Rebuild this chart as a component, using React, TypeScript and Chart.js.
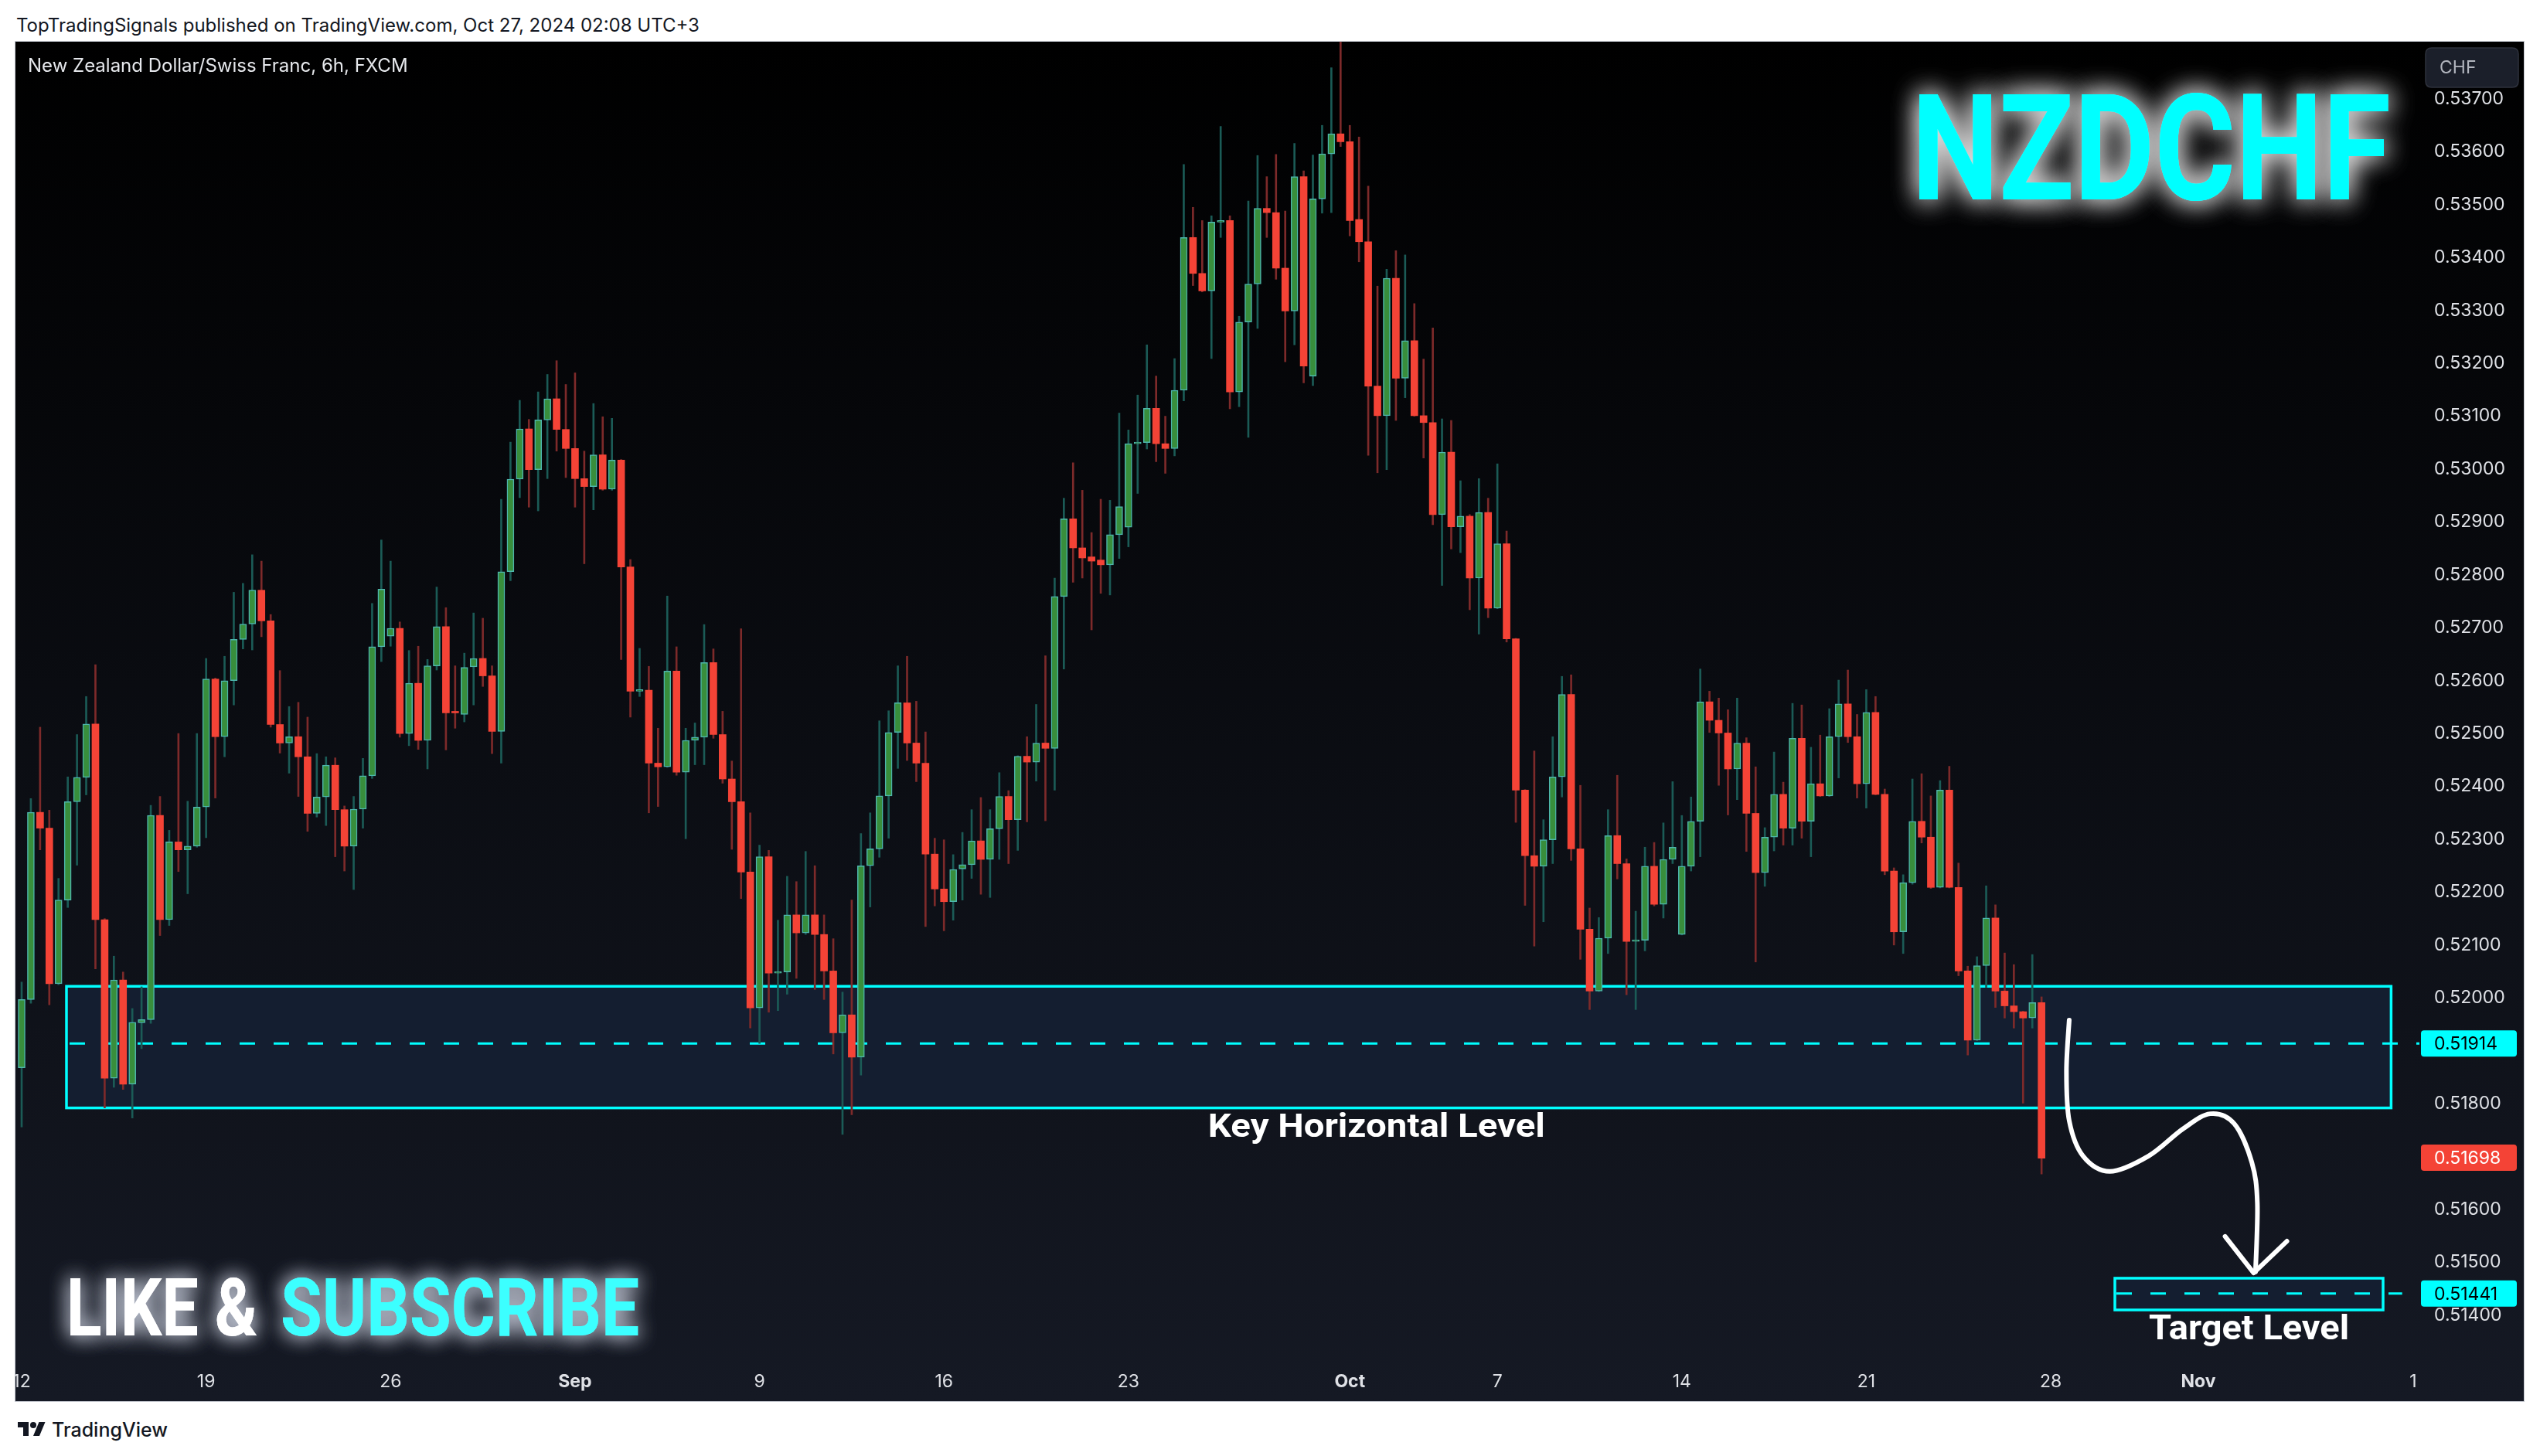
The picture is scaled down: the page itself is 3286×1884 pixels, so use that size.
import React, { useEffect, useRef } from 'react';
import { Chart, registerables } from 'chart.js';

Chart.register(...registerables);

// ---------- DATA (6h candles, NZD/CHF, Aug 12 – Oct 25, 2024) ----------
const open = [
  0.51868,0.51997,0.52351,0.52321,0.52027,0.52185,0.52371,0.52417,0.52518,0.52148,
  0.51848,0.52034,0.51837,0.51953,0.51959,0.52345,0.52148,0.52295,0.52280,0.52287,
  0.52361,0.52603,0.52494,0.52600,0.52678,0.52707,0.52771,0.52713,0.52517,0.52482,
  0.52494,0.52456,0.52349,0.52380,0.52440,0.52356,0.52287,0.52357,0.52420,0.52664,
  0.52684,0.52699,0.52500,0.52595,0.52487,0.52628,0.52702,0.52541,0.52536,0.52626,
  0.52642,0.52609,0.52504,0.52806,0.52981,0.53076,0.52999,0.53093,0.53133,0.53075,
  0.53039,0.52982,0.52967,0.53027,0.52962,0.53017,0.52815,0.52580,0.52582,0.52444,
  0.52437,0.52618,0.52427,0.52487,0.52493,0.52634,0.52498,0.52414,0.52371,0.52238,
  0.51981,0.52267,0.52047,0.52049,0.52157,0.52123,0.52157,0.52120,0.52051,0.51934,
  0.51968,0.51888,0.52250,0.52282,0.52382,0.52502,0.52558,0.52482,0.52444,0.52272,
  0.52206,0.52182,0.52244,0.52252,0.52297,0.52262,0.52320,0.52381,0.52337,0.52457,
  0.52446,0.52482,0.52472,0.52759,0.52906,0.52851,0.52834,0.52828,0.52819,0.52876,
  0.52890,0.53048,0.53050,0.53115,0.53048,0.53039,0.53149,0.53438,0.53370,0.53337,
  0.53467,0.53470,0.53146,0.53278,0.53350,0.53493,0.53485,0.53380,0.53299,0.53553,
  0.53176,0.53511,0.53596,0.53634,0.53619,0.53472,0.53430,0.53157,0.53101,0.53361,
  0.53172,0.53243,0.53101,0.53088,0.52914,0.53032,0.52891,0.52911,0.52794,0.52918,
  0.52737,0.52859,0.52679,0.52393,0.52269,0.52249,0.52299,0.52418,0.52574,0.52282,
  0.52130,0.52013,0.52113,0.52307,0.52254,0.52107,0.52109,0.52249,0.52177,0.52262,
  0.52120,0.52249,0.52334,0.52560,0.52525,0.52501,0.52433,0.52482,0.52349,0.52237,
  0.52304,0.52385,0.52321,0.52491,0.52334,0.52405,0.52382,0.52494,0.52556,0.52494,
  0.52405,0.52540,0.52385,0.52240,0.52125,0.52218,0.52334,0.52304,0.52209,0.52393,
  0.52209,0.52051,0.51920,0.52061,0.52151,0.52013,0.51985,0.51974,0.51962,0.51991,
];
const high = [
  0.52030,0.52377,0.52512,0.52355,0.52226,0.52418,0.52498,0.52570,0.52630,0.52150,
  0.52079,0.52049,0.51980,0.52021,0.52364,0.52381,0.52317,0.52500,0.52372,0.52500,
  0.52642,0.52605,0.52646,0.52767,0.52784,0.52838,0.52826,0.52725,0.52619,0.52551,
  0.52559,0.52531,0.52462,0.52456,0.52454,0.52363,0.52381,0.52453,0.52746,0.52866,
  0.52826,0.52711,0.52657,0.52665,0.52640,0.52777,0.52738,0.52628,0.52652,0.52728,
  0.52718,0.52628,0.52943,0.53051,0.53130,0.53094,0.53146,0.53179,0.53205,0.53160,
  0.53182,0.53034,0.53124,0.53099,0.53096,0.53018,0.52829,0.52661,0.52627,0.52510,
  0.52760,0.52664,0.52510,0.52520,0.52706,0.52660,0.52542,0.52448,0.52698,0.52350,
  0.52289,0.52279,0.52147,0.52230,0.52220,0.52277,0.52250,0.52157,0.52112,0.52011,
  0.52185,0.52311,0.52350,0.52524,0.52543,0.52628,0.52646,0.52561,0.52503,0.52302,
  0.52299,0.52271,0.52313,0.52356,0.52379,0.52356,0.52426,0.52392,0.52458,0.52494,
  0.52555,0.52647,0.52794,0.52945,0.53012,0.52960,0.52880,0.52943,0.52941,0.53106,
  0.53074,0.53140,0.53235,0.53176,0.53100,0.53209,0.53576,0.53495,0.53470,0.53479,
  0.53648,0.53479,0.53289,0.53507,0.53593,0.53553,0.53595,0.53488,0.53616,0.53564,
  0.53594,0.53650,0.53759,0.53808,0.53650,0.53628,0.53535,0.53346,0.53378,0.53413,
  0.53405,0.53313,0.53208,0.53267,0.53095,0.53092,0.52978,0.52914,0.52982,0.52945,
  0.53010,0.52883,0.52680,0.52394,0.52467,0.52337,0.52494,0.52608,0.52611,0.52402,
  0.52170,0.52152,0.52356,0.52421,0.52263,0.52164,0.52285,0.52294,0.52331,0.52409,
  0.52345,0.52380,0.52622,0.52580,0.52567,0.52545,0.52567,0.52492,0.52437,0.52322,
  0.52465,0.52408,0.52557,0.52554,0.52474,0.52497,0.52547,0.52601,0.52620,0.52536,
  0.52583,0.52570,0.52395,0.52246,0.52233,0.52414,0.52424,0.52382,0.52411,0.52438,
  0.52255,0.52060,0.52078,0.52212,0.52176,0.52085,0.52063,0.51975,0.52082,0.52002,
];
const low = [
  0.51756,0.51990,0.52280,0.51987,0.52025,0.52171,0.52251,0.52384,0.52055,0.51792,
  0.51831,0.51827,0.51773,0.51904,0.51952,0.52118,0.52137,0.52239,0.52197,0.52285,
  0.52303,0.52378,0.52456,0.52554,0.52660,0.52658,0.52683,0.52512,0.52463,0.52425,
  0.52381,0.52315,0.52342,0.52326,0.52267,0.52240,0.52205,0.52321,0.52415,0.52636,
  0.52665,0.52493,0.52477,0.52470,0.52433,0.52620,0.52469,0.52510,0.52522,0.52554,
  0.52589,0.52462,0.52444,0.52789,0.52946,0.52928,0.52921,0.52982,0.53034,0.52984,
  0.52928,0.52821,0.52923,0.52960,0.52960,0.52640,0.52531,0.52570,0.52350,0.52362,
  0.52436,0.52421,0.52301,0.52441,0.52441,0.52491,0.52406,0.52281,0.52188,0.51943,
  0.51914,0.51973,0.51976,0.52007,0.52037,0.52120,0.52016,0.51997,0.51894,0.51742,
  0.51779,0.51854,0.52172,0.52266,0.52302,0.52434,0.52449,0.52409,0.52135,0.52174,
  0.52127,0.52147,0.52185,0.52226,0.52196,0.52190,0.52262,0.52254,0.52279,0.52333,
  0.52410,0.52335,0.52393,0.52622,0.52786,0.52794,0.52696,0.52765,0.52762,0.52831,
  0.52853,0.52954,0.53038,0.53014,0.52992,0.53025,0.53129,0.53347,0.53335,0.53209,
  0.53438,0.53114,0.53118,0.53060,0.53266,0.53438,0.53359,0.53203,0.53235,0.53163,
  0.53158,0.53484,0.53485,0.53610,0.53441,0.53392,0.53026,0.52993,0.52999,0.53092,
  0.53135,0.53100,0.53021,0.52895,0.52780,0.52849,0.52842,0.52734,0.52688,0.52719,
  0.52736,0.52673,0.52332,0.52175,0.52098,0.52144,0.52254,0.52380,0.52260,0.52073,
  0.51978,0.52012,0.52084,0.52225,0.52006,0.51978,0.52089,0.52174,0.52151,0.52254,
  0.52119,0.52240,0.52267,0.52502,0.52402,0.52346,0.52375,0.52277,0.52068,0.52211,
  0.52278,0.52289,0.52289,0.52302,0.52267,0.52381,0.52381,0.52416,0.52483,0.52378,
  0.52359,0.52384,0.52233,0.52100,0.52084,0.52215,0.52293,0.52207,0.52208,0.52208,
  0.52042,0.51892,0.51919,0.52020,0.51982,0.51962,0.51943,0.51801,0.51943,0.51667,
];
const close = [
  0.51997,0.52351,0.52321,0.52027,0.52185,0.52371,0.52417,0.52518,0.52148,0.51848,
  0.52034,0.51837,0.51954,0.51959,0.52345,0.52148,0.52295,0.52280,0.52287,0.52361,
  0.52603,0.52494,0.52600,0.52678,0.52707,0.52771,0.52713,0.52517,0.52482,0.52494,
  0.52456,0.52349,0.52380,0.52440,0.52356,0.52287,0.52357,0.52420,0.52664,0.52773,
  0.52699,0.52500,0.52595,0.52487,0.52628,0.52702,0.52539,0.52539,0.52625,0.52642,
  0.52609,0.52504,0.52806,0.52981,0.53076,0.52999,0.53093,0.53133,0.53075,0.53039,
  0.52982,0.52967,0.53027,0.52962,0.53017,0.52815,0.52580,0.52582,0.52444,0.52437,
  0.52618,0.52427,0.52487,0.52493,0.52634,0.52498,0.52414,0.52371,0.52238,0.51981,
  0.52267,0.52047,0.52049,0.52157,0.52123,0.52157,0.52120,0.52051,0.51934,0.51968,
  0.51888,0.52250,0.52282,0.52382,0.52502,0.52558,0.52482,0.52444,0.52272,0.52206,
  0.52182,0.52243,0.52252,0.52297,0.52262,0.52320,0.52381,0.52337,0.52457,0.52446,
  0.52482,0.52472,0.52759,0.52906,0.52851,0.52832,0.52826,0.52819,0.52876,0.52929,
  0.53048,0.53050,0.53115,0.53048,0.53039,0.53149,0.53438,0.53370,0.53337,0.53467,
  0.53470,0.53146,0.53278,0.53350,0.53493,0.53485,0.53380,0.53299,0.53553,0.53195,
  0.53511,0.53596,0.53634,0.53619,0.53470,0.53430,0.53157,0.53101,0.53361,0.53172,
  0.53243,0.53101,0.53088,0.52914,0.53032,0.52891,0.52911,0.52794,0.52918,0.52737,
  0.52859,0.52679,0.52393,0.52269,0.52249,0.52299,0.52418,0.52574,0.52282,0.52130,
  0.52013,0.52113,0.52307,0.52254,0.52107,0.52109,0.52249,0.52177,0.52262,0.52285,
  0.52249,0.52334,0.52560,0.52525,0.52501,0.52433,0.52482,0.52349,0.52237,0.52304,
  0.52385,0.52321,0.52491,0.52334,0.52405,0.52382,0.52494,0.52556,0.52494,0.52405,
  0.52540,0.52385,0.52240,0.52125,0.52218,0.52334,0.52304,0.52209,0.52393,0.52209,
  0.52051,0.51920,0.52061,0.52151,0.52013,0.51985,0.51974,0.51962,0.51991,0.51697,
];

const priceTicks = [
  0.514, 0.515, 0.516, 0.517, 0.518, 0.519, 0.52, 0.521, 0.522, 0.523, 0.524, 0.525,
  0.526, 0.527, 0.528, 0.529, 0.53, 0.531, 0.532, 0.533, 0.534, 0.535, 0.536, 0.537,
];
const timeTickIdx = [0, 20, 40, 60, 80, 100, 120, 144, 160, 180, 200, 220, 236, 259.3];
const timeTickLabels = ['12', '19', '26', 'Sep', '9', '16', '23', 'Oct', '7', '14', '21', '28', 'Nov', '1'];
const monthLabels = ['Sep', 'Oct', 'Nov'];

const keyZone = [4.86, 256.9, 0.52022, 0.51792]; // from idx, to idx, top, bottom
const keyLevel = 0.51914;
const targetZone = [226.95, 256.03, 0.5147, 0.5141];
const targetLevel = 0.51441;
const targetLineEnd = 258.1;
const lastPrice = 0.51698;
const arrowX = [222.0, 221.7, 222.0, 223.5, 226.4, 230.6, 234.3, 237.3, 239.9, 241.8, 242.4, 242.2];
const arrowY = [0.51958, 0.51862, 0.51768, 0.51701, 0.51672, 0.51701, 0.51752, 0.51781, 0.51762, 0.51689, 0.51612, 0.51482];
const arrowHeadX = [238.9, 242.0, 245.6];
const arrowHeadY = [0.51549, 0.5148, 0.5154];
const keyLabelPos = [146.9, 0.51737];
const targetLabelPos = [241.5, 0.51354];

// ---------- LAYOUT ----------
const CW = 3245;
const CH = 1759;
const X_MIN = -0.6705;
const X_MAX = 259.97;
const Y_MIN = 0.513121;
const Y_MAX = 0.5380814;

const CYAN = '#00FFFF';
const UP_FILL = '#388E3C';
const UP_BORDER = '#4DB6AC';
const DOWN_FILL = '#F44336';
const UP_WICK = '#1B5B56';
const DOWN_WICK = '#7D2A2A';
const AXIS_TEXT = '#DFE1E6';

function fitText(ctx: CanvasRenderingContext2D, text: string, x: number, y: number, w: number, font: string, color: string, center: boolean) {
  ctx.save();
  ctx.font = font;
  const m = ctx.measureText(text).width;
  const s = w / m;
  ctx.translate(center ? x - w / 2 : x, y);
  ctx.scale(s, 1);
  ctx.textAlign = 'left';
  ctx.textBaseline = 'alphabetic';
  ctx.fillStyle = color;
  ctx.fillText(text, 0, 0);
  ctx.restore();
}

function roundRect(ctx: CanvasRenderingContext2D, x: number, y: number, w: number, h: number, r: number) {
  ctx.beginPath();
  ctx.moveTo(x + r, y);
  ctx.lineTo(x + w - r, y);
  ctx.quadraticCurveTo(x + w, y, x + w, y + r);
  ctx.lineTo(x + w, y + h - r);
  ctx.quadraticCurveTo(x + w, y + h, x + w - r, y + h);
  ctx.lineTo(x + r, y + h);
  ctx.quadraticCurveTo(x, y + h, x, y + h - r);
  ctx.lineTo(x, y + r);
  ctx.quadraticCurveTo(x, y, x + r, y);
  ctx.closePath();
}

const decor = {
  id: 'decor',
  beforeDraw(chart: any) {
    const ctx = chart.ctx;
    const g = ctx.createLinearGradient(0, 0, 0, chart.height);
    g.addColorStop(0, '#000000');
    g.addColorStop(1, '#151924');
    ctx.save();
    ctx.fillStyle = g;
    ctx.fillRect(0, 0, chart.width, chart.height);
    ctx.restore();
  },
  beforeDatasetsDraw(chart: any) {
    const ctx = chart.ctx;
    const xs = chart.scales.x;
    const ys = chart.scales.y;
    ctx.save();
    // key zone
    const kx0 = xs.getPixelForValue(keyZone[0]);
    const kx1 = xs.getPixelForValue(keyZone[1]);
    const ky0 = ys.getPixelForValue(keyZone[2]);
    const ky1 = ys.getPixelForValue(keyZone[3]);
    ctx.fillStyle = '#141E30';
    ctx.fillRect(kx0, ky0, kx1 - kx0, ky1 - ky0);
    ctx.strokeStyle = CYAN;
    ctx.lineWidth = 3.5;
    ctx.strokeRect(kx0, ky0, kx1 - kx0, ky1 - ky0);
    // target zone
    const tx0 = xs.getPixelForValue(targetZone[0]);
    const tx1 = xs.getPixelForValue(targetZone[1]);
    const ty0 = ys.getPixelForValue(targetZone[2]);
    const ty1 = ys.getPixelForValue(targetZone[3]);
    ctx.fillStyle = '#141E30';
    ctx.fillRect(tx0, ty0, tx1 - tx0, ty1 - ty0);
    ctx.strokeRect(tx0, ty0, tx1 - tx0, ty1 - ty0);
    // dashed levels
    ctx.setLineDash([20, 24]);
    ctx.lineWidth = 3;
    const ky = ys.getPixelForValue(keyLevel);
    ctx.beginPath();
    ctx.moveTo(kx0 + 4, ky);
    ctx.lineTo(chart.chartArea.right, ky);
    ctx.stroke();
    const ty = ys.getPixelForValue(targetLevel);
    ctx.beginPath();
    ctx.moveTo(tx0 + 2, ty);
    ctx.lineTo(xs.getPixelForValue(targetLineEnd), ty);
    ctx.stroke();
    ctx.restore();
  },
  afterDatasetsDraw(chart: any) {
    const ctx = chart.ctx;
    const xs = chart.scales.x;
    const ys = chart.scales.y;
    ctx.save();
    // curved arrow
    const pts = arrowX.map((v, i) => ({ x: xs.getPixelForValue(v), y: ys.getPixelForValue(arrowY[i]) }));
    ctx.strokeStyle = '#FFFFFF';
    ctx.lineWidth = 6;
    ctx.lineCap = 'round';
    ctx.lineJoin = 'round';
    ctx.beginPath();
    ctx.moveTo(pts[0].x, pts[0].y);
    for (let i = 0; i < pts.length - 1; i++) {
      const p0 = pts[i - 1] || pts[i];
      const p1 = pts[i];
      const p2 = pts[i + 1];
      const p3 = pts[i + 2] || p2;
      ctx.bezierCurveTo(
        p1.x + (p2.x - p0.x) / 6, p1.y + (p2.y - p0.y) / 6,
        p2.x - (p3.x - p1.x) / 6, p2.y - (p3.y - p1.y) / 6,
        p2.x, p2.y,
      );
    }
    ctx.stroke();
    ctx.beginPath();
    arrowHeadX.forEach((v, i) => {
      const px = xs.getPixelForValue(v);
      const py = ys.getPixelForValue(arrowHeadY[i]);
      if (i === 0) ctx.moveTo(px, py); else ctx.lineTo(px, py);
    });
    ctx.stroke();

    // zone labels
    fitText(ctx, 'Key Horizontal Level', xs.getPixelForValue(keyLabelPos[0]), ys.getPixelForValue(keyLabelPos[1]), 436, 'bold 42px Roboto', '#FFFFFF', true);
    fitText(ctx, 'Target Level', xs.getPixelForValue(targetLabelPos[0]), ys.getPixelForValue(targetLabelPos[1]), 259, 'bold 44px Roboto', '#FFFFFF', true);

    // watermark texts with glow
    ctx.save();
    ctx.shadowColor = 'rgba(255,255,255,0.8)';
    ctx.shadowBlur = 34;
    fitText(ctx, 'NZDCHF', 2453, 204, 620, 'bold 192px Roboto', CYAN, false);
    fitText(ctx, 'NZDCHF', 2453, 204, 620, 'bold 192px Roboto', CYAN, false);
    ctx.shadowColor = 'rgba(200,205,220,0.9)';
    ctx.shadowBlur = 26;
    fitText(ctx, 'LIKE &', 66, 1674, 247, 'bold 103px Roboto', '#FFFFFF', false);
    fitText(ctx, 'SUBSCRIBE', 343, 1674, 464, 'bold 103px Roboto', '#3CFFFF', false);
    fitText(ctx, 'LIKE &', 66, 1674, 247, 'bold 103px Roboto', '#FFFFFF', false);
    fitText(ctx, 'SUBSCRIBE', 343, 1674, 464, 'bold 103px Roboto', '#3CFFFF', false);
    ctx.restore();
    ctx.restore();
  },
  afterDraw(chart: any) {
    const ctx = chart.ctx;
    const ys = chart.scales.y;
    const left = chart.chartArea.right + 2;
    ctx.save();
    // title
    ctx.font = '24px Inter';
    ctx.fillStyle = '#E6E8EC';
    ctx.textBaseline = 'middle';
    ctx.textAlign = 'left';
    ctx.fillText('New Zealand Dollar/Swiss Franc, 6h, FXCM', 16, 32);
    // currency box
    roundRect(ctx, 3118, 8, 120, 51, 8);
    ctx.fillStyle = '#1B1F2A';
    ctx.fill();
    ctx.strokeStyle = '#2E323D';
    ctx.lineWidth = 1.5;
    ctx.stroke();
    ctx.fillStyle = '#B2B5BE';
    ctx.font = '23px Inter';
    ctx.fillText('CHF', 3136, 34);
    // price tags
    const tags: [number, string, string][] = [
      [keyLevel, CYAN, '#000000'],
      [lastPrice, '#F44336', '#FFFFFF'],
      [targetLevel, CYAN, '#000000'],
    ];
    tags.forEach(([v, bg, fg]) => {
      const y = ys.getPixelForValue(v);
      roundRect(ctx, left, y - 17, 124, 34, 4);
      ctx.fillStyle = bg;
      ctx.fill();
      ctx.fillStyle = fg;
      ctx.font = '23px Inter';
      ctx.textBaseline = 'middle';
      ctx.fillText(v.toFixed(5), chart.chartArea.right + 19, y + 1);
    });
    ctx.restore();
  },
};

export default function App() {
  const ref = useRef<HTMLCanvasElement | null>(null);
  useEffect(() => {
    if (!ref.current) return;
    const idx = open.map((_, i) => i);
    const up = idx.map((i) => close[i] >= open[i]);
    const chart = new Chart(ref.current, {
      type: 'bar',
      data: {
        datasets: [
          {
            label: 'wicks',
            data: idx.map((i) => ({ x: i, y: [low[i], high[i]] })) as any,
            backgroundColor: up.map((u) => (u ? UP_WICK : DOWN_WICK)),
            borderWidth: 0,
            barThickness: 2,
            grouped: false,
            order: 2,
          } as any,
          {
            label: 'bodies',
            data: idx.map((i) => ({ x: i, y: [open[i], close[i]] })) as any,
            backgroundColor: up.map((u) => (u ? UP_FILL : DOWN_FILL)),
            borderColor: up.map((u) => (u ? UP_BORDER : DOWN_FILL)),
            borderWidth: up.map((u) => (u ? 1.5 : 0)),
            borderSkipped: false,
            barThickness: 9,
            minBarLength: 2,
            grouped: false,
            order: 1,
          } as any,
        ],
      },
      options: {
        animation: false,
        responsive: false,
        devicePixelRatio: 1,
        events: [],
        layout: { padding: 0 },
        plugins: { legend: { display: false }, tooltip: { enabled: false } },
        scales: {
          x: {
            type: 'linear',
            min: X_MIN,
            max: X_MAX,
            offset: false,
            grid: { display: false, drawTicks: false },
            border: { display: false },
            afterBuildTicks: (s: any) => {
              s.ticks = timeTickIdx.map((v) => ({ value: v }));
            },
            afterFit: (s: any) => {
              s.height = 51;
              s.paddingLeft = 0;
              s.paddingRight = 0;
            },
            ticks: {
              autoSkip: false,
              maxRotation: 0,
              minRotation: 0,
              padding: 12,
              color: AXIS_TEXT,
              callback: (v: any) => {
                const k = timeTickIdx.indexOf(Number(v));
                return k >= 0 ? timeTickLabels[k] : '';
              },
              font: (c: any) => ({
                family: 'Inter',
                size: 23,
                lineHeight: 1.2,
                weight: c.tick && monthLabels.includes(c.tick.label) ? 'bold' : 'normal',
              }),
            },
          },
          y: {
            type: 'linear',
            position: 'right',
            min: Y_MIN,
            max: Y_MAX,
            grid: { display: false, drawTicks: false },
            border: { display: false },
            afterBuildTicks: (s: any) => {
              s.ticks = priceTicks.map((v) => ({ value: v }));
            },
            afterFit: (s: any) => {
              s.width = 135;
              s.paddingTop = 0;
              s.paddingBottom = 0;
            },
            ticks: {
              padding: 19,
              color: AXIS_TEXT,
              font: { family: 'Inter', size: 23 },
              callback: (v: any) => Number(v).toFixed(5),
            },
          },
        } as any,
      },
      plugins: [decor as any],
    });
    return () => chart.destroy();
  }, []);

  return (
    <div style={{ position: 'absolute', left: 0, top: 0, width: 3286, height: 1884, background: '#FFFFFF', overflow: 'hidden' }}>
      <div style={{ position: 'absolute', left: 21, top: 19, font: '24px Inter', lineHeight: '28px', color: '#131722', whiteSpace: 'nowrap' }}>
        TopTradingSignals published on TradingView.com, Oct 27, 2024 02:08 UTC+3
      </div>
      <div style={{ position: 'absolute', left: 19, top: 53, width: 3247, height: 1761, background: '#C3C6CE' }} />
      <canvas ref={ref} width={CW} height={CH} style={{ position: 'absolute', left: 20, top: 54, width: CW, height: CH }} />
      <div style={{ position: 'absolute', left: 21, top: 1836, display: 'flex', alignItems: 'center', gap: 6 }}>
        <svg width="40" height="28" viewBox="0 0 36 28">
          <path d="M14 22H7V11H0V4h14v18z" fill="#131722" />
          <circle cx="20" cy="8" r="4" fill="#131722" />
          <path d="M28 22h-8l7.5-18h8z" fill="#131722" />
        </svg>
        <span style={{ font: '500 25px Inter', color: '#131722', lineHeight: '28px' }}>TradingView</span>
      </div>
    </div>
  );
}
